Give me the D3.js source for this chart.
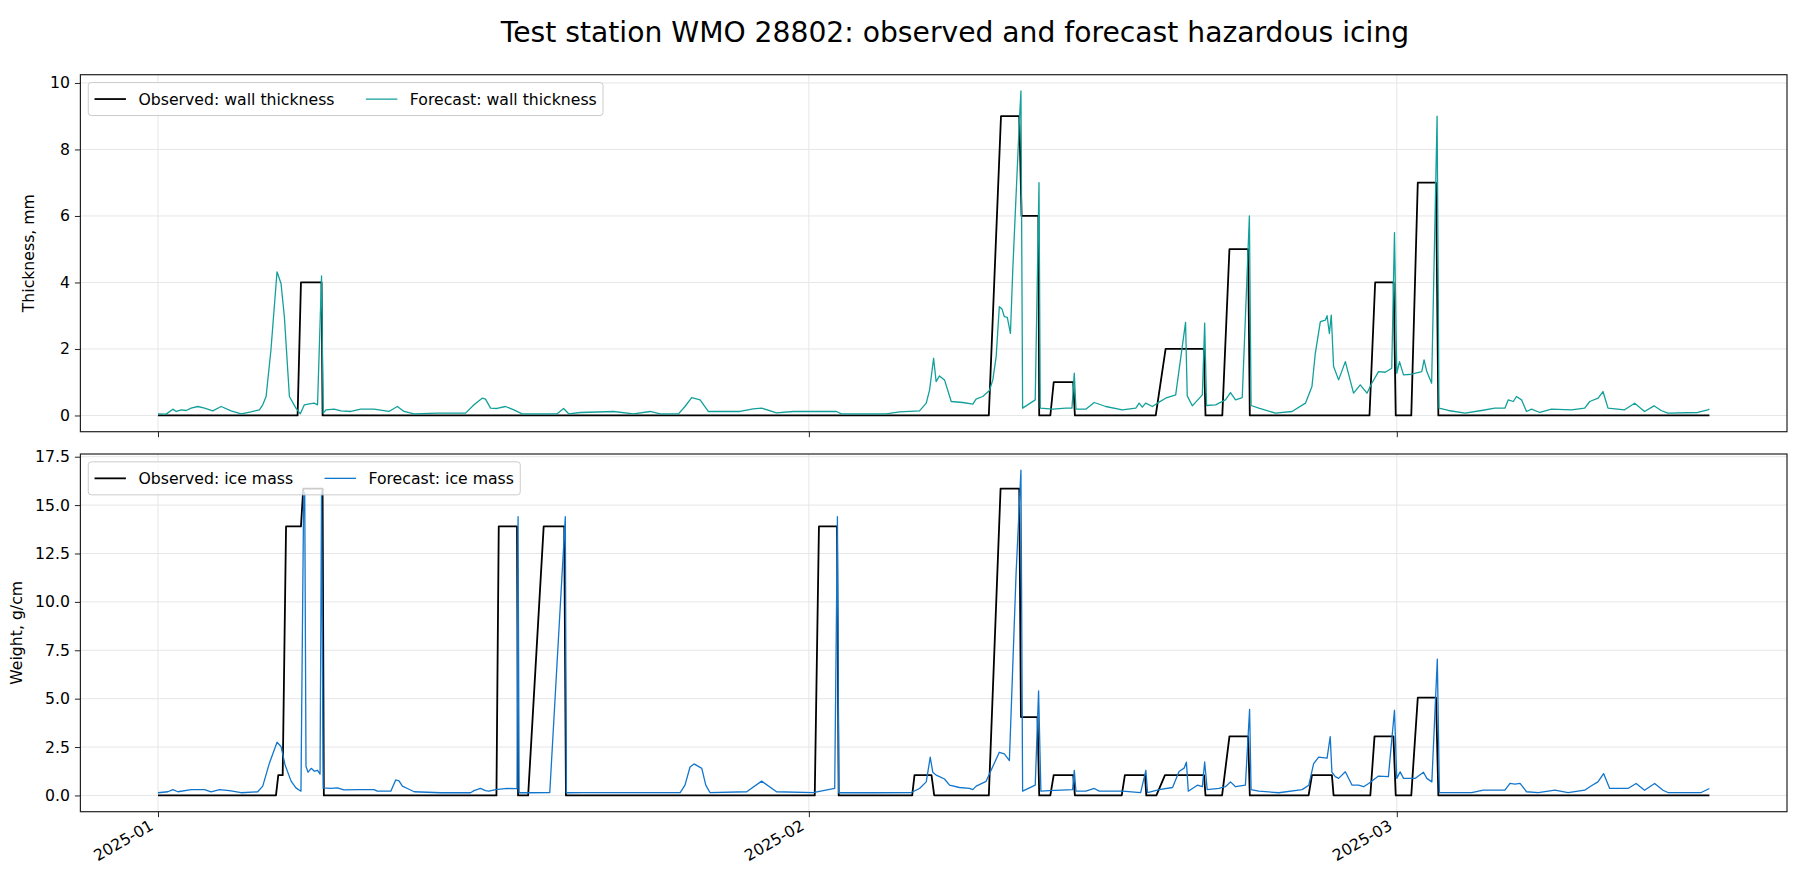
<!DOCTYPE html>
<html>
<head>
<meta charset="utf-8">
<title>Test station WMO 28802</title>
<script src="https://cdn.jsdelivr.net/npm/d3@7"></script>
<style>
  body { margin: 0; background: #fff; }
  svg { display: block; }
  text { font-family: "DejaVu Sans", sans-serif; }
</style>
</head>
<body>
<svg id="chart" width="1807" height="870"></svg>
<script>
// times are days since 2025-01-01 00:00
var monthTicks = ["2025-01-01", "2025-02-01", "2025-03-01"];
var wallTicks = [0, 2, 4, 6, 8, 10];
var massTicks = [0, 2.5, 5, 7.5, 10, 12.5, 15, 17.5];

var obsWallDays = [0, 6.65, 6.81, 7.79, 7.84, 39.57, 40.15, 41.02, 41.13, 41.93, 41.97, 42.5, 42.66, 43.59, 43.67,
  47.52, 47.99, 49.81, 49.89, 50.69, 51.03, 51.92, 52.0, 57.7, 57.97, 58.85, 58.95, 59.69, 60.0, 60.87, 60.98, 73.89];
var obsWallMm = [0, 0, 4, 4, 0, 0, 9, 9, 6, 6, 0, 0, 1, 1, 0,
  0, 2, 2, 0, 0, 5, 5, 0, 0, 4, 4, 0, 0, 7, 7, 0, 0];

var fcWallDays = [
  0, 0.39, 0.71, 0.87, 1.11, 1.34, 1.58, 1.9, 2.22, 2.61,
  3.01, 3.48, 3.96, 4.43, 4.83, 4.99, 5.15, 5.38, 5.67, 5.86,
  6.02, 6.26, 6.57, 6.78, 6.97, 7.21, 7.44, 7.6, 7.79, 7.87,
  8.0, 8.39, 8.71, 9.18, 9.66, 10.29, 11.0, 11.4, 11.72, 12.19,
  13.3, 14.65, 15.05, 15.44, 15.6, 15.84, 16.15, 16.55, 16.95, 17.34,
  19.01, 19.32, 19.56, 20.11, 21.7, 22.65, 23.44, 23.92, 24.79, 25.1,
  25.42, 25.82, 26.21, 27.72, 28.35, 28.75, 29.46, 30.25, 32.31, 32.55,
  34.69, 35.32, 36.27, 36.59, 36.75, 36.94, 37.06, 37.22, 37.46, 37.78,
  38.33, 38.81, 38.96, 39.28, 39.6, 39.76, 39.92, 40.07, 40.2, 40.31,
  40.45, 40.6, 40.71, 41.02, 41.1, 41.18, 41.78, 41.96, 42.02, 42.61,
  43.24, 43.53, 43.64, 43.72, 44.19, 44.59, 45.14, 45.93, 46.57, 46.73,
  46.88, 47.04, 47.36, 47.6, 47.99, 48.47, 48.94, 49.02, 49.26, 49.74,
  49.85, 49.94, 50.37, 50.84, 51.08, 51.32, 51.64, 51.98, 52.06, 52.43,
  53.22, 54.01, 54.65, 54.96, 55.12, 55.36, 55.6, 55.68, 55.79, 55.88,
  55.99, 56.23, 56.55, 56.94, 57.26, 57.58, 57.81, 58.13, 58.45, 58.76,
  58.89, 59.0, 59.13, 59.32, 59.71, 60.19, 60.3, 60.43, 60.66, 60.92,
  61.01, 61.46, 62.25, 63.04, 63.67, 64.15, 64.31, 64.55, 64.7, 64.94,
  65.18, 65.42, 65.81, 66.37, 67.32, 67.95, 68.19, 68.59, 68.82, 69.06,
  69.85, 70.33, 70.8, 71.25, 71.59, 71.91, 73.34, 73.81, 73.89];
var fcWallMm = [
  0.05, 0.04, 0.19, 0.12, 0.17, 0.15, 0.22, 0.27, 0.22, 0.14,
  0.27, 0.14, 0.05, 0.11, 0.17, 0.32, 0.57, 1.97, 4.32, 3.97,
  2.97, 0.57, 0.22, 0.05, 0.32, 0.35, 0.37, 0.32, 4.2, 0.07,
  0.17, 0.19, 0.14, 0.12, 0.19, 0.19, 0.12, 0.27, 0.12, 0.05,
  0.07, 0.07, 0.32, 0.52, 0.49, 0.22, 0.21, 0.27, 0.17, 0.05,
  0.05, 0.21, 0.05, 0.09, 0.12, 0.05, 0.12, 0.05, 0.05, 0.27,
  0.54, 0.47, 0.12, 0.12, 0.2, 0.22, 0.08, 0.12, 0.12, 0.05,
  0.05, 0.11, 0.14, 0.37, 0.77, 1.72, 1.02, 1.19, 1.07, 0.42,
  0.39, 0.34, 0.49, 0.57, 0.75, 1.07, 1.77, 3.27, 3.2, 2.97,
  2.95, 2.47, 4.37, 8.78, 9.76, 0.22, 0.47, 7.0, 0.22, 0.19,
  0.22, 0.22, 1.27, 0.19, 0.19, 0.39, 0.27, 0.17, 0.22, 0.37,
  0.25, 0.37, 0.27, 0.37, 0.52, 0.62, 2.8, 0.59, 0.29, 0.62,
  2.78, 0.3, 0.32, 0.47, 0.69, 0.47, 0.54, 6.0, 0.3, 0.22,
  0.07, 0.12, 0.37, 0.87, 1.87, 2.82, 2.87, 3.0, 2.47, 3.02,
  1.47, 1.07, 1.62, 0.67, 0.92, 0.67, 0.97, 1.32, 1.3, 1.42,
  5.5, 1.27, 1.62, 1.22, 1.24, 1.32, 1.67, 1.32, 0.97, 9.0,
  0.22, 0.15, 0.07, 0.15, 0.22, 0.22, 0.47, 0.42, 0.57, 0.47,
  0.12, 0.19, 0.09, 0.19, 0.17, 0.22, 0.42, 0.52, 0.72, 0.22,
  0.17, 0.37, 0.12, 0.29, 0.15, 0.07, 0.09, 0.17, 0.19];

var obsMassDays = [0, 5.62, 5.73, 5.94, 6.1, 6.81, 6.92, 7.84, 7.9, 16.12, 16.23, 17.1, 17.15,
  17.63, 18.37, 19.35, 19.43, 31.28, 31.48, 32.34, 32.42, 35.92, 36.03, 36.84, 36.97,
  39.57, 40.13, 41.02, 41.1, 41.89, 41.97, 42.5, 42.66, 43.59, 43.67, 45.9, 46.05, 47.01, 47.07,
  47.55, 47.96, 49.82, 49.89, 50.68, 51.03, 51.92, 52.0, 54.8, 54.96, 55.91, 55.99,
  57.74, 57.94, 58.84, 58.95, 59.69, 60.0, 60.87, 60.98, 73.89];
var obsMassGcm = [0, 0, 1.05, 1.05, 13.9, 13.9, 15.85, 15.85, 0, 0, 13.9, 13.9, 0,
  0, 13.9, 13.9, 0, 0, 13.9, 13.9, 0, 0, 1.05, 1.05, 0,
  0, 15.85, 15.85, 4.05, 4.05, 0, 0, 1.05, 1.05, 0, 0, 1.05, 1.05, 0,
  0, 1.05, 1.05, 0, 0, 3.05, 3.05, 0, 0, 1.05, 1.05, 0,
  0, 3.05, 3.05, 0, 0, 5.05, 5.05, 0, 0];

var fcMassDays = [
  0, 0.47, 0.71, 0.95, 1.58, 2.22, 2.53, 2.93, 3.4, 3.96,
  4.75, 4.99, 5.31, 5.67, 5.86, 6.05, 6.34, 6.57, 6.81, 6.94,
  6.99, 7.05, 7.15, 7.3, 7.45, 7.6, 7.72, 7.79, 7.87, 8.22,
  8.54, 8.86, 9.5, 10.29, 10.45, 11.09, 11.32, 11.48, 11.64, 11.88,
  12.2, 13.46, 14.89, 15.05, 15.36, 15.6, 15.76, 16.08, 16.63, 17.1,
  17.15, 17.2, 17.58, 18.66, 19.4, 19.45, 20.27, 21.38, 23.44, 24.87,
  25.1, 25.34, 25.53, 25.9, 26.09, 26.29, 28.04, 28.75, 29.46, 31.2,
  32.23, 32.36, 32.42, 34.05, 35.88, 36.27, 36.59, 36.78, 36.9, 37.06,
  37.22, 37.46, 37.7, 38.17, 38.65, 38.81, 38.97, 39.44, 39.75, 40.07,
  40.31, 40.55, 40.87, 41.1, 41.18, 41.78, 41.94, 42.05, 42.45, 43.56,
  43.64, 43.72, 44.19, 44.59, 44.83, 45.94, 46.8, 47.05, 47.13, 47.68,
  48.32, 48.63, 48.87, 48.98, 49.07, 49.5, 49.74, 49.85, 49.97, 50.53,
  50.84, 51.08, 51.32, 51.79, 51.99, 52.06, 52.43, 53.38, 54.49, 54.81,
  55.04, 55.28, 55.68, 55.83, 55.91, 56.07, 56.23, 56.55, 56.87, 57.18,
  57.42, 57.66, 58.13, 58.6, 58.89, 59.0, 59.16, 59.32, 59.87, 60.27,
  60.43, 60.67, 60.93, 61.03, 62.57, 63.12, 64.15, 64.39, 64.63, 64.87,
  65.18, 65.74, 66.53, 67.16, 67.95, 68.27, 68.58, 68.85, 69.14, 70.01,
  70.4, 70.8, 71.28, 71.68, 71.91, 73.5, 73.89];
var fcMassGcm = [
  0.14, 0.19, 0.3, 0.19, 0.3, 0.3, 0.19, 0.3, 0.25, 0.14,
  0.19, 0.48, 1.68, 2.75, 2.53, 1.59, 0.74, 0.39, 0.22, 15.7,
  15.6, 1.5, 1.2, 1.4, 1.25, 1.3, 1.1, 15.7, 0.39, 0.36,
  0.39, 0.29, 0.3, 0.3, 0.22, 0.22, 0.8, 0.75, 0.48, 0.36,
  0.19, 0.14, 0.14, 0.25, 0.36, 0.25, 0.22, 0.3, 0.36, 0.35,
  14.4, 0.14, 0.14, 0.15, 14.4, 0.14, 0.15, 0.15, 0.15, 0.15,
  0.53, 1.47, 1.63, 1.4, 0.53, 0.15, 0.19, 0.74, 0.19, 0.15,
  0.36, 14.4, 0.14, 0.14, 0.15, 0.36, 0.7, 1.98, 1.2, 1.05,
  0.97, 0.85, 0.53, 0.41, 0.36, 0.3, 0.48, 0.73, 1.47, 2.23,
  2.15, 1.8, 11.5, 16.8, 0.22, 0.53, 5.4, 0.22, 0.25, 0.3,
  1.3, 0.22, 0.22, 0.36, 0.22, 0.22, 0.15, 1.3, 0.15, 0.3,
  0.41, 1.24, 1.41, 1.72, 0.22, 0.53, 0.45, 1.73, 0.3, 0.36,
  0.45, 0.7, 0.45, 0.53, 4.45, 0.3, 0.22, 0.14, 0.3, 0.53,
  1.64, 1.98, 1.93, 3.04, 1.2, 0.97, 0.88, 1.22, 0.53, 0.53,
  0.45, 0.62, 1.0, 0.97, 4.4, 0.88, 1.22, 0.88, 0.88, 1.2,
  0.88, 0.7, 7.04, 0.15, 0.15, 0.27, 0.27, 0.62, 0.58, 0.62,
  0.19, 0.15, 0.27, 0.15, 0.27, 0.5, 0.7, 1.13, 0.36, 0.36,
  0.62, 0.27, 0.62, 0.27, 0.15, 0.15, 0.36];

var start = new Date(2025, 0, 1);
function toDate(d) { return new Date(start.getTime() + d * 864e5); }
function series(days, vals) {
  return days.map(function(d, i) { return {t: toDate(d), v: vals[i]}; });
}
var parseDay = d3.timeParse("%Y-%m-%d");

var fontSize = 15.7;
var margin = {left: 80.4, right: 20};
var width = 1807 - margin.left - margin.right;

var panels = [
  {top: 74.7, height: 357, yLabel: "Thickness, mm", yLabelX: 28, ticks: wallTicks, fmt: d3.format("d"),
   obs: series(obsWallDays, obsWallMm), fc: series(fcWallDays, fcWallMm), color: "#12a09a",
   names: ["Observed: wall thickness", "Forecast: wall thickness"], dates: false},
  {top: 454, height: 357.7, yLabel: "Weight, g/cm", yLabelX: 16, ticks: massTicks, fmt: d3.format(".1f"),
   obs: series(obsMassDays, obsMassGcm), fc: series(fcMassDays, fcMassGcm), color: "#1276cc",
   names: ["Observed: ice mass", "Forecast: ice mass"], dates: true}
];

// matplotlib style 5% margins
var tExt = d3.extent(panels[0].obs.concat(panels[0].fc, panels[1].obs, panels[1].fc), function(d) { return +d.t; });
var tPad = (tExt[1] - tExt[0]) * 0.05;
var x = d3.scaleTime()
    .domain([new Date(tExt[0] - tPad), new Date(tExt[1] + tPad)])
    .range([0, width]);

var svg = d3.select("#chart");

svg.append("text")
    .attr("x", 955)
    .attr("y", 42)
    .attr("text-anchor", "middle")
    .style("font-size", "28.2px")
    .text("Test station WMO 28802: observed and forecast hazardous icing");

panels.forEach(function(p, i) {
  var vExt = d3.extent(p.obs.concat(p.fc), function(d) { return d.v; });
  var vPad = (vExt[1] - vExt[0]) * 0.05;
  var y = d3.scaleLinear()
      .domain([vExt[0] - vPad, vExt[1] + vPad])
      .range([p.height, 0]);

  var g = svg.append("g")
      .attr("transform", "translate(" + margin.left + "," + p.top + ")");

  g.append("clipPath").attr("id", "clip" + i)
    .append("rect").attr("width", width).attr("height", p.height);

  // grid
  g.append("g").selectAll("line").data(monthTicks.map(parseDay)).enter().append("line")
      .attr("x1", function(d) { return x(d); }).attr("x2", function(d) { return x(d); })
      .attr("y1", 0).attr("y2", p.height)
      .attr("stroke", "#e6e6e6").attr("stroke-width", 1);
  g.append("g").selectAll("line").data(p.ticks).enter().append("line")
      .attr("x1", 0).attr("x2", width)
      .attr("y1", function(d) { return y(d); }).attr("y2", function(d) { return y(d); })
      .attr("stroke", "#e6e6e6").attr("stroke-width", 1);

  var line = d3.line()
      .x(function(d) { return x(d.t); })
      .y(function(d) { return y(d.v); });

  var plot = g.append("g").attr("clip-path", "url(#clip" + i + ")");
  plot.append("path").datum(p.obs)
      .attr("d", line)
      .attr("fill", "none")
      .attr("stroke", "#000")
      .attr("stroke-width", 1.8)
      .attr("stroke-linejoin", "round");
  plot.append("path").datum(p.fc)
      .attr("d", line)
      .attr("fill", "none")
      .attr("stroke", p.color)
      .attr("stroke-width", 1.3)
      .attr("stroke-linejoin", "round");

  // axes
  var ya = g.append("g")
      .call(d3.axisLeft(y).tickValues(p.ticks).tickFormat(p.fmt).tickSize(5.5).tickPadding(5))
      .attr("color", "#222")
      .attr("font-size", fontSize);
  ya.select(".domain").remove();
  ya.selectAll("text").attr("fill", "#000");

  var xAxis = d3.axisBottom(x).tickValues(monthTicks.map(parseDay)).tickSize(5.5);
  if (p.dates) xAxis.tickFormat(d3.timeFormat("%Y-%m"));
  else xAxis.tickFormat("");
  var xa = g.append("g")
      .attr("transform", "translate(0," + p.height + ")")
      .call(xAxis)
      .attr("color", "#222")
      .attr("font-size", fontSize);
  xa.select(".domain").remove();
  xa.selectAll("text")
      .attr("fill", "#000")
      .attr("y", 0)
      .attr("dy", 0)
      .attr("text-anchor", "end")
      .attr("transform", "translate(-4,17) rotate(-30)");

  // frame
  g.append("rect")
      .attr("width", width).attr("height", p.height)
      .attr("fill", "none").attr("stroke", "#222").attr("stroke-width", 1.2);

  // y label
  g.append("text")
      .attr("transform", "translate(" + (p.yLabelX - margin.left) + "," + (p.height / 2) + ") rotate(-90)")
      .attr("text-anchor", "middle")
      .attr("dominant-baseline", "central")
      .style("font-size", fontSize + "px")
      .text(p.yLabel);

  // legend, upper left, two columns
  var pad = 0.5 * fontSize, border = 0.4 * fontSize, handle = 2 * fontSize,
      handleGap = 0.8 * fontSize, colGap = 2 * fontSize, legH = 33;
  var leg = g.append("g").attr("transform", "translate(" + pad + "," + pad + ")");
  var box = leg.append("rect")
      .attr("rx", 3).attr("height", legH)
      .attr("fill", "#fff").attr("fill-opacity", 0.8)
      .attr("stroke", "#cccccc").attr("stroke-width", 1);
  var cx = border;
  [{name: p.names[0], color: "#000", w: 1.8}, {name: p.names[1], color: p.color, w: 1.3}].forEach(function(it, k) {
    if (k > 0) cx += colGap;
    leg.append("line")
        .attr("x1", cx).attr("x2", cx + handle)
        .attr("y1", legH / 2).attr("y2", legH / 2)
        .attr("stroke", it.color).attr("stroke-width", it.w);
    cx += handle + handleGap;
    var t = leg.append("text")
        .attr("x", cx).attr("y", legH / 2)
        .attr("dominant-baseline", "central")
        .style("font-size", fontSize + "px")
        .text(it.name);
    cx += t.node().getComputedTextLength();
  });
  box.attr("width", cx + border);
});
</script>
</body>
</html>
